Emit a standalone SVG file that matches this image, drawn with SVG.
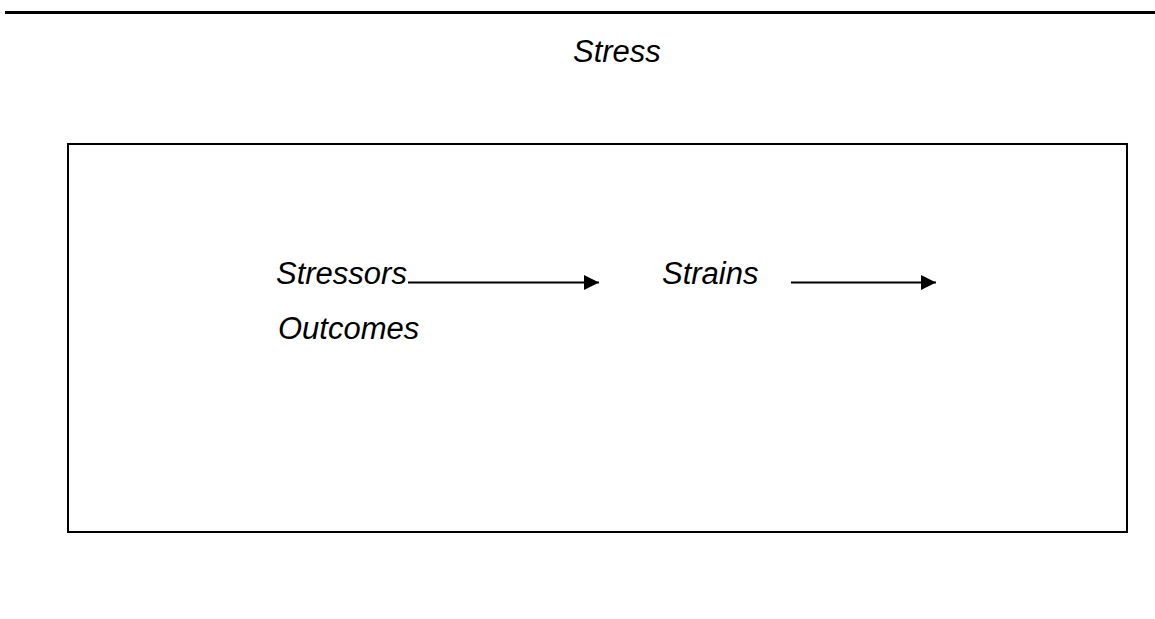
<svg xmlns="http://www.w3.org/2000/svg" width="1155" height="619" viewBox="0 0 1155 619">
<style>
.t{font-family:"Liberation Sans",Arial,sans-serif;font-style:italic;font-size:31px;fill:#000}
.c{stroke:#000;stroke-width:1.8;fill:none}
</style>
<defs>
<marker id="ah" markerUnits="userSpaceOnUse" markerWidth="16" markerHeight="16" viewBox="0 0 16 16" refX="15" refY="8" orient="auto">
<path d="M0,0.5 L15,8 L0,15.5 Z" fill="#000"/>
</marker>
</defs>
<rect width="1155" height="619" fill="#fff"/>
<line x1="5" y1="12.5" x2="1155" y2="12.5" stroke="#000" stroke-width="3"/>
<g id="title"><text class="t" x="573" y="62">Stress</text></g>
<g id="frame"><rect x="68" y="144" width="1059" height="388" fill="none" stroke="#000" stroke-width="2"/></g>
<g id="stressors"><text class="t" x="276" y="284">Stressors</text></g>
<g id="strains"><text class="t" x="662" y="284">Strains</text></g>
<g id="outcomes"><text class="t" x="278" y="339">Outcomes</text></g>
<g id="connectors">
<line class="c" x1="408" y1="282.5" x2="599" y2="282.5" marker-end="url(#ah)"/>
<line class="c" x1="791" y1="282.5" x2="936" y2="282.5" marker-end="url(#ah)"/>
</g>
</svg>
